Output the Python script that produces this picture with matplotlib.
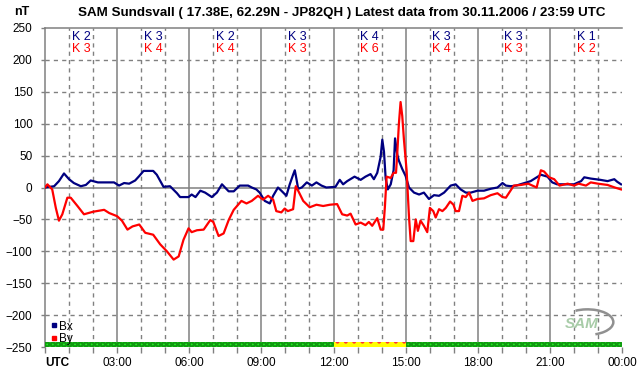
#!/usr/bin/env python3
"""SAM Sundsvall magnetometer plot, 30.11.2006."""
import matplotlib
matplotlib.use('Agg')
import matplotlib.pyplot as plt
from matplotlib.lines import Line2D
from matplotlib.patches import Arc

plt.rcParams.update({
    'font.family': ['Liberation Sans', 'DejaVu Sans'],
    'font.size': 8.5,
    'hatch.linewidth': 1.6,
})

# Bx (nT) vs hour UTC, one line per 3-hour block
bx_hours = [0, 0.38, 0.58, 0.79, 1.0, 1.2, 1.49, 1.7, 1.9, 2.2, 2.58, 2.87,
            3.08, 3.29, 3.5, 3.75, 3.92, 4.1, 4.5, 4.65, 4.93, 5.2, 5.49, 5.62, 5.97,
            6.1, 6.26, 6.46, 6.66, 6.94, 7.15, 7.36, 7.64, 7.85, 8.1, 8.45, 8.6, 8.79, 8.93,
            9.14, 9.35, 9.49, 9.69, 9.83, 10.04, 10.18, 10.32, 10.39, 10.46, 10.53, 10.68, 10.89, 11.1, 11.29, 11.5, 11.7,
            12.08, 12.26, 12.4, 12.57, 12.875, 13.13, 13.33, 13.54, 13.68, 13.82, 13.96, 14.03, 14.1, 14.17, 14.26, 14.38, 14.5, 14.56, 14.65, 14.72, 14.86,
            15.0, 15.14, 15.35, 15.56, 15.76, 15.97, 16.18, 16.39, 16.6, 16.875, 17.08, 17.29, 17.5, 17.71, 17.99,
            18.26, 18.54, 18.82, 19.03, 19.17, 19.38, 19.6, 20.2, 20.625, 20.9,
            21.1, 21.3, 21.7, 22.0, 22.3, 22.43, 22.7, 23.1, 23.4, 23.68, 23.8, 23.96]
bx_values = [0, 2, 10, 22, 13, 7, 2, 4, 11, 8, 8, 8,
             3, 7, 6, 11, 18, 26, 26, 20, 1, 2, -9, -15, -15,
             -11, -15, -5, -8, -15, -8, 5, -6, -6, 3, 3, 0, -3, -8,
             -21, -25, -13, 0, -5, -13, 5, 20, 27, 13, -2, 0, 8, 3, 8, 3, 0,
             1, 12, 5, 10, 17, 12, 17, 21, 13, 23, 48, 75, 56, 14, -3, 5, 27, 77, 52, 42, 29,
             18, 0, -8, -11, -8, -18, -12, -13, -8, 3, 5, -3, -8, -8, -5,
             -5, -2, 0, 7, 3, 2, 3, 10, 20, 17,
             8, 5, 5, 5, 10, 16, 14, 12, 10, 13, 9, 5]

# By (nT) vs hour UTC
by_hours = [0, 0.1, 0.3, 0.45, 0.58, 0.72, 0.93, 1.07, 1.35, 1.62, 2.0, 2.46, 2.67,
            3.0, 3.2, 3.43, 3.64, 3.92, 4.17, 4.5, 4.79, 5.07, 5.35, 5.56, 5.76, 5.97,
            6.1, 6.32, 6.6, 6.875, 7.0, 7.22, 7.43, 7.64, 7.85, 8.17, 8.38, 8.6, 8.86,
            9.07, 9.28, 9.49, 9.62, 9.83, 9.97, 10.1, 10.32, 10.43, 10.53, 10.74, 11.01, 11.29, 11.57, 11.85,
            12.15, 12.36, 12.57, 12.71, 12.92, 13.13, 13.33, 13.47, 13.61, 13.82, 13.96, 14.07, 14.14, 14.21, 14.38, 14.5, 14.6, 14.65, 14.72, 14.79, 14.86, 14.93,
            15.04, 15.14, 15.21, 15.32, 15.42, 15.51, 15.62, 15.76, 15.9, 16.01, 16.15, 16.25, 16.39, 16.53, 16.67, 16.85, 16.99, 17.08, 17.22, 17.36, 17.5, 17.64, 17.78, 17.99,
            18.26, 18.54, 18.82, 19.03, 19.17, 19.5, 19.8, 20.1, 20.45, 20.625, 20.76, 20.97,
            21.18, 21.4, 21.74, 22.0, 22.2, 22.5, 22.7, 23.0, 23.4, 23.7, 23.96]
by_values = [0, 5, -3, -32, -52, -42, -16, -16, -29, -42, -38, -35, -40,
             -45, -52, -66, -61, -58, -71, -74, -89, -100, -113, -108, -82, -64,
             -70, -67, -66, -51, -54, -76, -72, -51, -35, -21, -25, -21, -13,
             -19, -13, -19, -37, -39, -33, -37, -34, 2, -5, -21, -31, -27, -29, -27,
             -26, -42, -44, -41, -58, -55, -59, -54, -60, -48, -66, -66, -29, 17, 15, 23, 23, 52, 100, 134, 112, 75,
             27, -46, -84, -84, -50, -68, -52, -60, -70, -32, -37, -47, -34, -37, -32, -22, -27, -37, -37, -13, -15, -8, -21, -18,
             -17, -12, -9, -15, -16, 3, 4, 6, 0, 27, 25, 16,
             13, 3, 6, 3, 6, 3, 8, 6, 4, 0, -3]

# K indices per 3-hour block
k_bx = [2, 3, 2, 3, 4, 3, 3, 1]
k_by = [3, 4, 4, 3, 6, 4, 3, 2]

# data status bar: (start hour, duration, state)
status = [(0, 12, 'ok'), (12, 3, 'warn'), (15, 9, 'ok')]

x_labels = ['UTC', '03:00', '06:00', '09:00', '12:00', '15:00', '18:00', '21:00', '00:00']

c_bx = '#000080'
c_by = '#ff0000'
c_grid = '#808080'

fig = plt.figure(figsize=(6.42, 3.76), dpi=100)
ax = fig.add_axes([45 / 642, 1 - 347 / 376, 577 / 642, 319 / 376])
ax.set_xlim(0, 24)
ax.set_ylim(-250, 250)

# grid
for h in range(1, 24):
    if h % 3 == 0:
        ax.axvline(h, color=c_grid, lw=1.1, zorder=1)
    else:
        ax.axvline(h, color=c_grid, lw=1.0, ls=(0, (3, 3)), zorder=1)
for v in range(-200, 250, 50):
    if v == 0:
        ax.axhline(v, color=c_grid, lw=1.1, zorder=1)
    else:
        ax.axhline(v, color=c_grid, lw=1.0, ls=(0, (3, 3)), zorder=1)

for side in ['right', 'bottom']:
    ax.spines[side].set_visible(False)
for side in ['left', 'top']:
    ax.spines[side].set_color(c_grid)
    ax.spines[side].set_linewidth(1.1)

# traces
ax.plot(bx_hours, bx_values, color=c_bx, lw=1.6, zorder=3)
ax.plot(by_hours, by_values, color=c_by, lw=1.6, zorder=4)

# status bar along the bottom
for start, dur, state in status:
    if state == 'ok':
        ax.broken_barh([(start, dur)], (-250, 8), facecolor='#22ee22',
                       edgecolor='#119911', hatch='xxxxxx', lw=0, zorder=5)
    else:
        ax.broken_barh([(start, dur)], (-250, 8), facecolor='#ffff00',
                       edgecolor='#ff3333', hatch='..', lw=0, zorder=5)

# K indices
for i, (kx, ky) in enumerate(zip(k_bx, k_by)):
    xc = 1.5 + 3 * i
    ax.text(xc, 236, f'K {kx}', color=c_bx, ha='center', va='center', fontsize=9, zorder=6)
    ax.text(xc, 217, f'K {ky}', color=c_by, ha='center', va='center', fontsize=9, zorder=6)

# axes ticks
ax.set_yticks(range(-250, 251, 50))
ax.set_xticks(range(0, 25, 3))
ax.set_xticklabels(x_labels)
ax.set_xticks(range(0, 25), minor=True)
ax.tick_params(axis='y', length=3, width=1, color=c_grid, pad=6, labelsize=8.5)
ax.tick_params(axis='x', which='both', length=4, width=1, color=c_grid, pad=3, labelsize=8.5)
lbl = ax.get_xticklabels()
lbl[0].set_fontweight('bold')
lbl[0].set_horizontalalignment('left')

# legend
handles = [Line2D([], [], marker='s', ls='', color=c_bx, markersize=3),
           Line2D([], [], marker='s', ls='', color=c_by, markersize=3)]
ax.legend(handles, ['Bx', 'By'], loc='lower left', bbox_to_anchor=(-0.004, -0.02),
          frameon=False, fontsize=8.5, handlelength=0.5, handletextpad=0.2,
          labelspacing=0.05, borderpad=0.2)

# SAM logo
ax.text(0.93, 0.072, 'SAM', transform=ax.transAxes, ha='center', va='center',
        fontsize=11, fontweight='bold', style='italic', color='#a8cca8', zorder=6)
ax.add_patch(Arc((0.94, 0.078), 0.09, 0.08, theta1=-70, theta2=120,
                 transform=ax.transAxes, color='#909090', lw=1.8, zorder=6))

# titles
fig.text(342 / 642, 1 - 13 / 376,
         'SAM Sundsvall ( 17.38E, 62.29N - JP82QH ) Latest data from 30.11.2006 / 23:59 UTC',
         ha='center', va='center', fontsize=9.6, fontweight='bold')
fig.text(22 / 642, 1 - 12 / 376, 'nT', ha='center', va='center', fontsize=9, fontweight='bold')

fig.savefig('out.png', dpi=100)
